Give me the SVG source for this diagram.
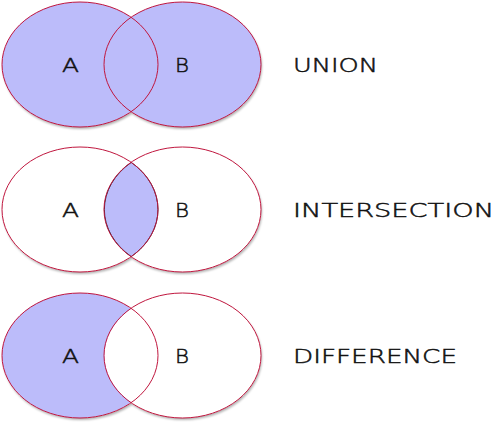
<svg xmlns="http://www.w3.org/2000/svg" width="500" height="423" viewBox="0 0 500 423">
  <defs>
    <filter id="sh" x="-10%" y="-10%" width="120%" height="125%">
      <feDropShadow dx="1" dy="2" stdDeviation="1.2" flood-color="#000" flood-opacity="0.3"/>
    </filter>
  </defs>
  <style>
    .fill { fill: #bcbcfa; stroke: none; }
    .blank { fill: #ffffff; stroke: none; }
    .edge { fill: none; stroke: #c0163e; stroke-width: 1; }
    .lens { fill: #bcbcfa; stroke: #2a2a3a; stroke-width: 1; }
    .lbl { font-family: "DejaVu Sans", "Liberation Sans", sans-serif; font-size: 20px; font-weight: 200; fill: #111; stroke: #111; stroke-width: 0.5; text-anchor: middle; }
    .ttl { font-family: "DejaVu Sans", "Liberation Sans", sans-serif; font-size: 20px; font-weight: 200; fill: #111; stroke: #111; stroke-width: 0.5; }
  </style>

  <g id="union">
    <g filter="url(#sh)">
      <ellipse class="fill" cx="80" cy="64.5" rx="78" ry="62.5"/>
      <ellipse class="fill" cx="182.5" cy="64.5" rx="78.5" ry="62.5"/>
    </g>
    <ellipse class="edge" cx="80" cy="64.5" rx="78" ry="62.5"/>
    <ellipse class="edge" cx="182.5" cy="64.5" rx="78.5" ry="62.5"/>
    <text class="lbl" x="70.5" y="72" textLength="17" lengthAdjust="spacingAndGlyphs">A</text>
    <text class="lbl" x="182" y="72" textLength="14" lengthAdjust="spacingAndGlyphs">B</text>
    <text class="ttl" x="293" y="72" textLength="85" lengthAdjust="spacingAndGlyphs">UNION</text>
  </g>

  <g id="intersection">
    <g filter="url(#sh)">
      <ellipse class="blank" cx="80" cy="209.5" rx="78" ry="62.5"/>
      <ellipse class="blank" cx="182.5" cy="209.5" rx="78.5" ry="62.5"/>
    </g>
    <path class="lens" d="M131.25,162.4 A78.5,62.5 0 0 0 131.25,256.6 A78,62.5 0 0 0 131.25,162.4 Z"/>
    <ellipse class="edge" cx="80" cy="209.5" rx="78" ry="62.5"/>
    <ellipse class="edge" cx="182.5" cy="209.5" rx="78.5" ry="62.5"/>
    <text class="lbl" x="70.5" y="217" textLength="17" lengthAdjust="spacingAndGlyphs">A</text>
    <text class="lbl" x="182" y="217" textLength="14" lengthAdjust="spacingAndGlyphs">B</text>
    <text class="ttl" x="293" y="217" textLength="201" lengthAdjust="spacingAndGlyphs">INTERSECTION</text>
  </g>

  <g id="difference">
    <g filter="url(#sh)">
      <ellipse class="blank" cx="80" cy="355.5" rx="78" ry="62.5"/>
      <ellipse class="blank" cx="182.5" cy="355.5" rx="78.5" ry="62.5"/>
    </g>
    <path class="fill" d="M131.25,308.4 A78,62.5 0 1 0 131.25,402.6 A78.5,62.5 0 0 1 131.25,308.4 Z"/>
    <ellipse class="edge" cx="80" cy="355.5" rx="78" ry="62.5"/>
    <ellipse class="edge" cx="182.5" cy="355.5" rx="78.5" ry="62.5"/>
    <text class="lbl" x="70.5" y="363" textLength="17" lengthAdjust="spacingAndGlyphs">A</text>
    <text class="lbl" x="182" y="363" textLength="14" lengthAdjust="spacingAndGlyphs">B</text>
    <text class="ttl" x="293" y="363" textLength="164" lengthAdjust="spacingAndGlyphs">DIFFERENCE</text>
  </g>
</svg>
